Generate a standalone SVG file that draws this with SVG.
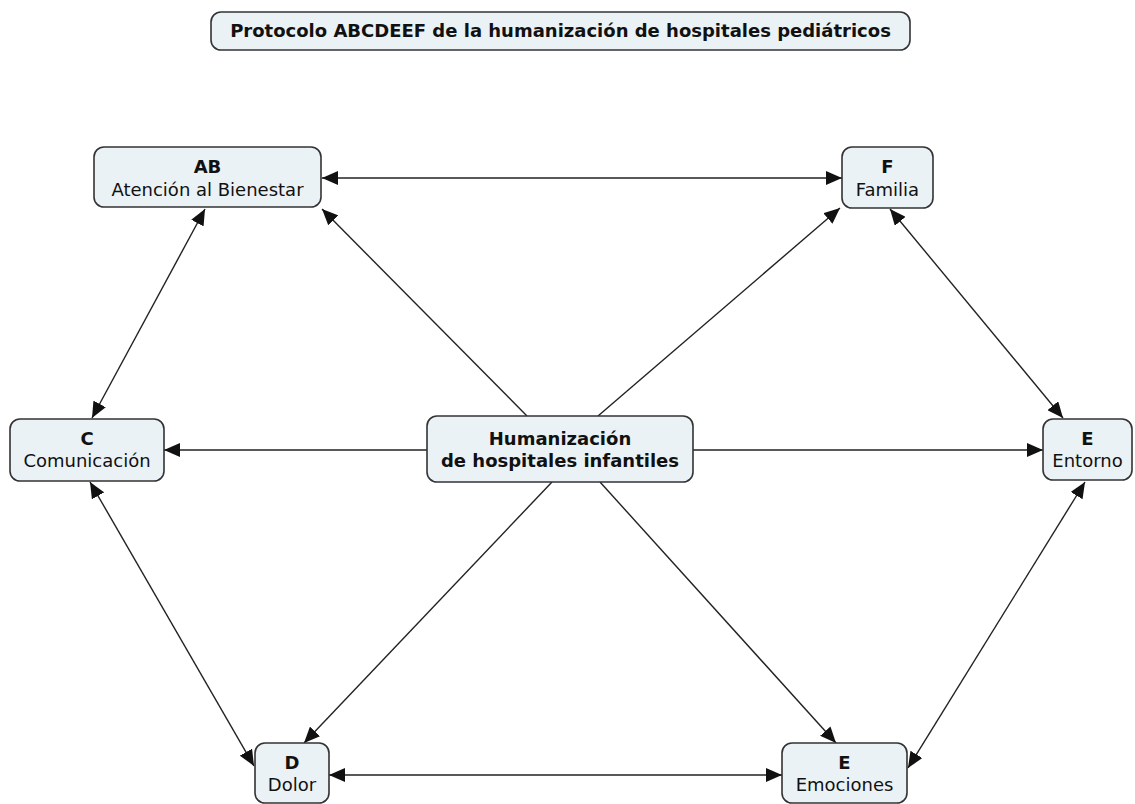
<svg xmlns="http://www.w3.org/2000/svg" width="1135" height="804" viewBox="0 0 1135 804">
  <style>
    .box { fill: #ebf2f5; stroke: #333; stroke-width: 1.6; }
    .t { font-family: "DejaVu Sans", Verdana, sans-serif; font-size: 18px; fill: #111; text-anchor: middle; }
    .b { font-weight: bold; }
    .link { stroke: #222; stroke-width: 1.4; fill: none; }
    .one { marker-end: url(#head); }
    .two { marker-start: url(#head); marker-end: url(#head); }
  </style>
  <defs>
    <marker id="head" markerUnits="userSpaceOnUse" markerWidth="17" markerHeight="14" refX="16" refY="7" orient="auto-start-reverse">
      <path d="M0,0 L16,7 L0,14 z" fill="#111"/>
    </marker>
  </defs>

  <rect width="1135" height="804" fill="#fff"/>

  <!-- connectors -->
  <g id="connectors">
    <line class="link two" x1="322" y1="178" x2="842" y2="178"/>
    <line class="link two" x1="205" y1="209" x2="92" y2="418"/>
    <line class="link one" x1="527" y1="416" x2="322" y2="209"/>
    <line class="link one" x1="598" y1="416" x2="840" y2="208"/>
    <line class="link two" x1="890" y1="209" x2="1063" y2="418"/>
    <line class="link one" x1="427" y1="450" x2="164" y2="450"/>
    <line class="link one" x1="693" y1="450" x2="1043" y2="450"/>
    <line class="link two" x1="90" y1="482" x2="254" y2="766"/>
    <line class="link one" x1="552" y1="482" x2="304" y2="743"/>
    <line class="link one" x1="600" y1="482" x2="836" y2="743"/>
    <line class="link two" x1="329" y1="775" x2="782" y2="775"/>
    <line class="link two" x1="1085" y1="482" x2="908" y2="768"/>
  </g>

  <!-- title -->
  <g id="title">
    <rect class="box" x="211" y="12" width="699" height="38" rx="10"/>
    <text class="t b" x="560.5" y="37">Protocolo ABCDEEF de la humanización de hospitales pediátricos</text>
  </g>

  <g id="node-ab">
    <rect class="box" x="94" y="147" width="227" height="60" rx="10"/>
    <text class="t b" x="207.5" y="173">AB</text>
    <text class="t" x="207.5" y="196">Atención al Bienestar</text>
  </g>

  <g id="node-f">
    <rect class="box" x="842" y="147" width="91" height="61" rx="10"/>
    <text class="t b" x="887.5" y="173">F</text>
    <text class="t" x="887.5" y="196">Familia</text>
  </g>

  <g id="node-c">
    <rect class="box" x="10" y="419" width="154" height="62" rx="10"/>
    <text class="t b" x="87" y="445">C</text>
    <text class="t" x="87" y="467">Comunicación</text>
  </g>

  <g id="node-center">
    <rect class="box" x="427" y="416" width="266" height="66" rx="10"/>
    <text class="t b" x="560" y="445">Humanización</text>
    <text class="t b" x="560" y="467">de hospitales infantiles</text>
  </g>

  <g id="node-entorno">
    <rect class="box" x="1043" y="419" width="89" height="61" rx="10"/>
    <text class="t b" x="1087.5" y="445">E</text>
    <text class="t" x="1087.5" y="467">Entorno</text>
  </g>

  <g id="node-d">
    <rect class="box" x="255" y="743" width="74" height="60" rx="10"/>
    <text class="t b" x="292" y="769">D</text>
    <text class="t" x="292" y="791">Dolor</text>
  </g>

  <g id="node-emociones">
    <rect class="box" x="782" y="743" width="125" height="60" rx="10"/>
    <text class="t b" x="844.5" y="769">E</text>
    <text class="t" x="844.5" y="791">Emociones</text>
  </g>
</svg>
